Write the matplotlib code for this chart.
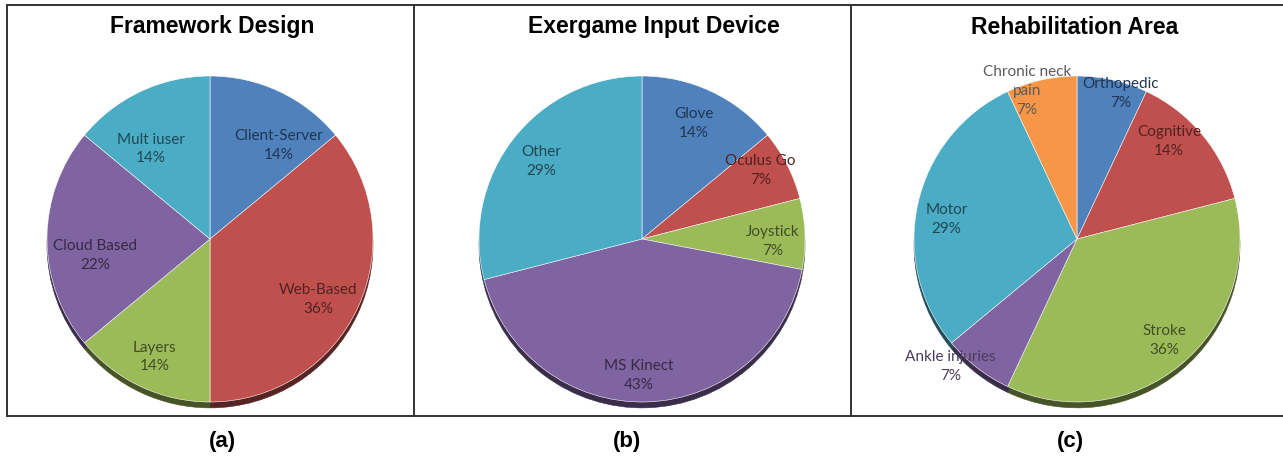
import matplotlib
matplotlib.use("Agg")
import matplotlib.pyplot as plt
import numpy as np
from matplotlib.lines import Line2D
from matplotlib.patches import Shadow

# data (percentages)
fw_labels = ['Client-Server', 'Web-Based', 'Layers', 'Cloud Based', 'Mult iuser']
fw_values = [14, 36, 14, 22, 14]

dev_labels = ['Glove', 'Oculus Go', 'Joystick', 'MS Kinect', 'Other']
dev_values = [14, 7, 7, 43, 29]

rehab_labels = ['Orthopedic', 'Cognitive', 'Stroke', 'Ankle injuries', 'Motor', 'Chronic neck\npain']
rehab_values = [7, 14, 36, 7, 29, 7]

titles = ['Framework Design', 'Exergame Input Device', 'Rehabilitation Area']
panel_tags = ['(a)', '(b)', '(c)']

# Excel 2007 palette
palette = ['#4F81BD', '#C0504D', '#9BBB59', '#8064A2', '#4BACC6', '#F79646']

# label placement tweaks: (radius, angle shift in deg)
label_pos = [
    [(0.71, -11), (0.76, -4), (0.80, 0), (0.71, 8), (0.66, 8)],
    [(0.78, 1), (0.84, 3), (0.80, -3), (0.84, -3), (0.78, 0)],
    [(0.93, -4), (0.82, 7), (0.82, 1), (1.10, -7), (0.81, 4), (0.96, 6)],
]

W, H = 1283, 467
fig = plt.figure(figsize=(W / 100, H / 100), dpi=100)

def px_axes(cx, cy, r):
    # axes whose [-1,1] box is a square of radius r pixels, centred on (cx, cy) from top-left
    return fig.add_axes([(cx - r) / W, (H - cy - r) / H, 2 * r / W, 2 * r / H])

def darker(c, f=0.42):
    rgb = np.array(matplotlib.colors.to_rgb(c))
    return tuple(rgb * f)

centres = [(210, 239), (642, 239), (1077, 239)]
radius = 163
all_labels = [fw_labels, dev_labels, rehab_labels]
all_values = [fw_values, dev_values, rehab_values]

for k in range(3):
    ax = px_axes(centres[k][0], centres[k][1], radius)
    vals = all_values[k]
    cols = palette[:len(vals)]
    wedges, _ = ax.pie(vals, colors=cols, startangle=90, counterclock=False,
                       radius=1.0, wedgeprops=dict(edgecolor='white', linewidth=0.4),
                       shadow=dict(ox=0, oy=-0.026, shade=0.55))
    # make the "3D" rim solid instead of half transparent
    for p in ax.patches:
        if isinstance(p, Shadow):
            p.set_alpha(1.0)
    ax.set_xlim(-1, 1)
    ax.set_ylim(-1, 1)
    ax.set_aspect('equal')
    ax.axis('off')

    for i, w in enumerate(wedges):
        r, shift = label_pos[k][i]
        ang = np.deg2rad((w.theta1 + w.theta2) / 2 + shift)
        txt = f'{all_labels[k][i]}\n{vals[i]}%'
        tc = darker(cols[i])
        if k == 2 and i in (3, 5):
            tc = '#5a5a5a' if i == 5 else '#4a3d5c'
        ax.text(r * np.cos(ang), r * np.sin(ang), txt, ha='center', va='center',
                fontsize=11, family='Lato', color=tc, linespacing=1.45, clip_on=False)

# titles and tags
title_x = [212, 654, 1075]
tag_x = [222, 627, 1070]
for k in range(3):
    fig.text(title_x[k] / W, 1 - 27 / H, titles[k], ha='center', va='center',
             fontsize=16.5, fontweight='bold', family='Liberation Sans')
    fig.text(tag_x[k] / W, 1 - 442 / H, panel_tags[k], ha='center', va='center',
             fontsize=16, fontweight='bold', family='Liberation Sans')

# panel frames
def fline(xs, ys):
    fig.add_artist(Line2D([x / W for x in xs], [1 - y / H for y in ys],
                          color='#333333', linewidth=1.4))

fline([7, 1283], [5, 5])
fline([7, 1283], [416, 416])
fline([7, 7], [5, 416])
fline([414, 414], [5, 416])
fline([851, 851], [5, 416])

fig.savefig('out.png', dpi=100, facecolor='white')
